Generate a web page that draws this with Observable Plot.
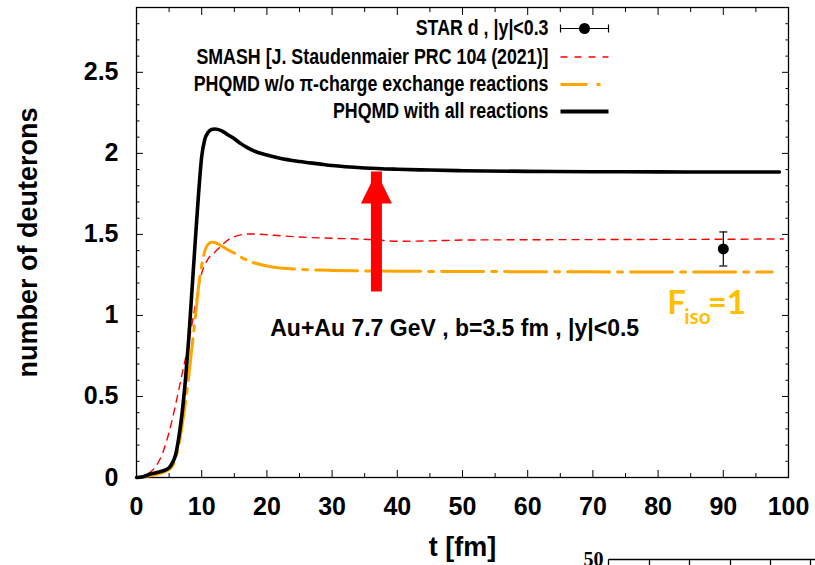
<!DOCTYPE html>
<html>
<head>
<meta charset="utf-8">
<script src="https://cdn.jsdelivr.net/npm/d3@7"></script>
<script src="https://cdn.jsdelivr.net/npm/@observablehq/plot@0.6"></script>
<style>
  html, body { margin: 0; padding: 0; background: #fff; }
  #chart { width: 815px; height: 565px; overflow: hidden; }
</style>
</head>
<body>
<div id="chart"></div>
<script>
// ---------- data ----------
const tBlack = [0, 1, 2, 3, 4, 5, 5.5, 6, 6.5, 7, 7.5, 8, 8.5, 9, 9.5, 10, 10.5, 11, 11.5, 12, 13, 14, 15, 16, 17, 18, 20, 22, 25, 28, 30, 35, 40, 45, 50, 60, 70, 80, 90, 98.6];
const nBlack = [0, 0.005, 0.02, 0.03, 0.04, 0.06, 0.09, 0.14, 0.25, 0.40, 0.60, 0.85, 1.15, 1.45, 1.74, 1.98, 2.09, 2.13, 2.147, 2.15, 2.14, 2.115, 2.09, 2.06, 2.035, 2.015, 1.99, 1.97, 1.95, 1.935, 1.925, 1.91, 1.902, 1.897, 1.893, 1.889, 1.887, 1.886, 1.885, 1.885];

const tOrange = [0, 2, 4, 5, 5.5, 6, 6.5, 7, 7.5, 8, 8.5, 9, 9.5, 10, 10.5, 11, 11.5, 12, 13, 14, 15, 16, 17, 18, 20, 22, 25, 30, 40, 50, 60, 70, 80, 90, 97.5];
const nOrange = [0, 0.01, 0.03, 0.05, 0.07, 0.12, 0.20, 0.32, 0.46, 0.62, 0.80, 0.98, 1.17, 1.31, 1.40, 1.44, 1.452, 1.45, 1.43, 1.405, 1.385, 1.36, 1.34, 1.325, 1.305, 1.293, 1.285, 1.278, 1.273, 1.271, 1.27, 1.269, 1.268, 1.268, 1.268];

const tRed = [0, 1, 2, 3, 4, 5, 6, 7, 8, 9, 10, 11, 12, 13, 14, 15, 16, 17, 18, 20, 22, 25, 30, 35, 38, 40, 45, 50, 60, 70, 80, 90, 99.2];
const nRed = [0, 0.005, 0.03, 0.07, 0.15, 0.28, 0.45, 0.64, 0.83, 1.06, 1.26, 1.35, 1.39, 1.43, 1.465, 1.485, 1.497, 1.502, 1.502, 1.498, 1.492, 1.484, 1.476, 1.47, 1.462, 1.458, 1.46, 1.465, 1.467, 1.468, 1.469, 1.47, 1.472];

const starT = [90];
const starN = [1.41];
const starErr = [0.105];

const arrowT = [36.8];
const arrowFrom = [1.33];
const arrowTo = [1.885];

const xMajor = [0, 10, 20, 30, 40, 50, 60, 70, 80, 90, 100];
const xMinor = [5, 15, 25, 35, 45, 55, 65, 75, 85, 95];
const yMajor = [0, 0.5, 1, 1.5, 2, 2.5];
const yMinor = d3.range(1, 29).map(i => i / 10).filter(v => Math.abs(v * 2 - Math.round(v * 2)) > 1e-6);

const legendLabels = [
  "STAR d , |y|<0.3",
  "SMASH [J. Staudenmaier PRC 104 (2021)]",
  "PHQMD w/o \u03c0-charge exchange reactions",
  "PHQMD with all reactions"
];
const annotation = "Au+Au 7.7 GeV , b=3.5 fm , |y|<0.5";
const xTitle = "t [fm]";
const yTitle = "number of deuterons";
const neighbourLabel = "50";

// ---------- tables ----------
const black = tBlack.map((t, i) => ({t, n: nBlack[i]}));
const orange = tOrange.map((t, i) => ({t, n: nOrange[i]}));
const red = tRed.map((t, i) => ({t, n: nRed[i]}));
const star = starT.map((t, i) => ({t, n: starN[i], lo: starN[i] - starErr[i], hi: starN[i] + starErr[i]}));
const arrow = arrowT.map((t, i) => ({t, from: arrowFrom[i], to: arrowTo[i]}));

// ---------- symbols ----------
const hbar = {draw(ctx) { ctx.moveTo(-4, 0); ctx.lineTo(4, 0); }};
const seg = {draw(ctx) { ctx.moveTo(-24, 0); ctx.lineTo(24, 0); }};
const errSample = {draw(ctx) { ctx.moveTo(-24, 0); ctx.lineTo(24, 0); ctx.moveTo(-24, -4); ctx.lineTo(-24, 4); ctx.moveTo(24, -4); ctx.lineTo(24, 4); }};
const head = {draw(ctx) { ctx.moveTo(0, 0); ctx.lineTo(15.5, 31.5); ctx.lineTo(-15.5, 31.5); ctx.closePath(); }};
const neighbourAxis = {draw(ctx) {
  ctx.moveTo(0, 0); ctx.lineTo(215, 0);
  for (const x of [0, 41, 81, 122, 162, 202]) { ctx.moveTo(x, 0); ctx.lineTo(x, 8); }
}};

const FONT = "'Liberation Sans', Arial, Helvetica, sans-serif";
const FISOFONT = "Lato, 'Open Sans', sans-serif";
const RED = "#ff0000", ORANGE = "#ffa500", GOLD = "#ffc000";

const rowDy = [21, 49.5, 77, 104];
const legendMarks = [];
legendLabels.forEach((lab, i) => {
  legendMarks.push(Plot.text([lab], {text: d => d, frameAnchor: "top-left", dx: 412, dy: rowDy[i], textAnchor: "end", lineAnchor: "middle", fontSize: 17.8, fontWeight: "bold", fill: "black", className: "legtxt"}));
});
legendMarks.push(
  Plot.dot([0], {frameAnchor: "top-left", dx: 448, dy: rowDy[0], symbol: errSample, fill: "none", stroke: "black", strokeWidth: 1.2}),
  Plot.dot([0], {frameAnchor: "top-left", dx: 448, dy: rowDy[0], r: 5.5, fill: "black", stroke: "none"}),
  Plot.dot([0], {frameAnchor: "top-left", dx: 448, dy: rowDy[1], symbol: seg, fill: "none", stroke: RED, strokeWidth: 1.5, strokeDasharray: "7,7"}),
  Plot.dot([0], {frameAnchor: "top-left", dx: 448, dy: rowDy[2], symbol: seg, fill: "none", stroke: ORANGE, strokeWidth: 3, strokeDasharray: "27,9,4,9"}),
  Plot.dot([0], {frameAnchor: "top-left", dx: 448, dy: rowDy[3], symbol: seg, fill: "none", stroke: "black", strokeWidth: 4})
);

const chart = Plot.plot({
  width: 815,
  height: 565,
  marginLeft: 136,
  marginRight: 27,
  marginTop: 7,
  marginBottom: 88,
  x: {domain: [0, 100]},
  y: {domain: [0, 2.9]},
  style: {fontFamily: FONT, background: "white", color: "black", overflow: "visible"},
  marks: [
    // axes: ticks inside the frame, on all four sides
    Plot.axisX(xMajor, {anchor: "bottom", tickSize: -7, tickPadding: 27, fontSize: 25, fontWeight: "bold", label: null, tickFormat: d => String(d)}),
    Plot.axisX(xMinor, {anchor: "bottom", tickSize: -4, tickFormat: () => "", label: null}),
    Plot.axisX(xMajor, {anchor: "top", tickSize: -7, tickFormat: () => "", label: null}),
    Plot.axisX(xMinor, {anchor: "top", tickSize: -4, tickFormat: () => "", label: null}),
    Plot.axisY(yMajor, {anchor: "left", tickSize: -7, tickPadding: 25, fontSize: 25, fontWeight: "bold", label: null, tickFormat: d => String(d)}),
    Plot.axisY(yMinor, {anchor: "left", tickSize: -3.5, tickFormat: () => "", label: null}),
    Plot.axisY(yMajor, {anchor: "right", tickSize: -7, tickFormat: () => "", label: null}),
    Plot.axisY(yMinor, {anchor: "right", tickSize: -3.5, tickFormat: () => "", label: null}),
    Plot.frame({stroke: "black", strokeWidth: 1.3}),

    // curves
    Plot.line(red, {x: "t", y: "n", stroke: RED, strokeWidth: 1.4, strokeDasharray: "7,6", curve: "monotone-x"}),
    Plot.line(orange, {x: "t", y: "n", stroke: ORANGE, strokeWidth: 3, strokeDasharray: "42,8,5,8", curve: "monotone-x"}),
    Plot.line(black, {x: "t", y: "n", stroke: "black", strokeWidth: 3.6, curve: "monotone-x"}),

    // STAR point
    Plot.ruleX(star, {x: "t", y1: "lo", y2: "hi", stroke: "black", strokeWidth: 1.2}),
    Plot.dot(star, {x: "t", y: "lo", symbol: hbar, fill: "none", stroke: "black", strokeWidth: 1.2}),
    Plot.dot(star, {x: "t", y: "hi", symbol: hbar, fill: "none", stroke: "black", strokeWidth: 1.2}),
    Plot.dot(star, {x: "t", y: "n", r: 5.5, fill: "black", stroke: "none"}),

    // red arrow
    Plot.ruleX(arrow, {x: "t", y1: "from", y2: "to", stroke: RED, strokeWidth: 11, insetTop: 30}),
    Plot.dot(arrow, {x: "t", y: "to", symbol: head, fill: RED, stroke: "none"}),

    // annotations
    Plot.text([annotation], {text: d => d, x: 48.8, y: 0.92, textAnchor: "middle", lineAnchor: "middle", fontSize: 23, fontWeight: "bold", fill: "black"}),
    Plot.text(["F"], {text: d => d, x: 81.4, y: 1.01, textAnchor: "start", lineAnchor: "bottom", fontSize: 33, fontWeight: "bold", fontFamily: FISOFONT, fill: GOLD}),
    Plot.text(["iso"], {text: d => d, x: 84.0, y: 0.95, textAnchor: "start", lineAnchor: "bottom", fontSize: 21, fontWeight: "bold", fontFamily: FISOFONT, fill: GOLD}),
    Plot.text(["=1"], {text: d => d, x: 87.6, y: 1.01, textAnchor: "start", lineAnchor: "bottom", fontSize: 33, fontWeight: "bold", fontFamily: FISOFONT, fill: GOLD}),

    // axis titles
    Plot.text([yTitle], {text: d => d, frameAnchor: "left", dx: -108, rotate: -90, textAnchor: "middle", lineAnchor: "middle", fontSize: 27, fontWeight: "bold", fill: "black"}),
    Plot.text([xTitle], {text: d => d, frameAnchor: "bottom", dy: 70, textAnchor: "middle", lineAnchor: "middle", fontSize: 27, fontWeight: "bold", fill: "black"}),

    // fragment of the neighbouring figure (bottom right)
    Plot.text([neighbourLabel], {text: d => d, frameAnchor: "bottom-left", dx: 467, dy: 88, textAnchor: "end", lineAnchor: "bottom", fontSize: 20, fontWeight: "bold", fontFamily: "'Liberation Serif', serif", fill: "black"}),
    Plot.dot([0], {frameAnchor: "bottom-left", dx: 472, dy: 82, symbol: neighbourAxis, fill: "none", stroke: "black", strokeWidth: 1.3}),

    ...legendMarks
  ]
});

document.getElementById("chart").appendChild(chart);

// legend glyphs in the reference are taller than wide: stretch them vertically about their own anchor
d3.select(chart).selectAll(".legtxt text").each(function () {
  const b = this.getBBox();
  const ax = b.x + b.width, ay = b.y + b.height / 2;
  const t = this.getAttribute("transform") || "";
  this.setAttribute("transform", `${t} translate(${ax},${ay}) scale(1,1.2) translate(${-ax},${-ay})`);
});
</script>
</body>
</html>
